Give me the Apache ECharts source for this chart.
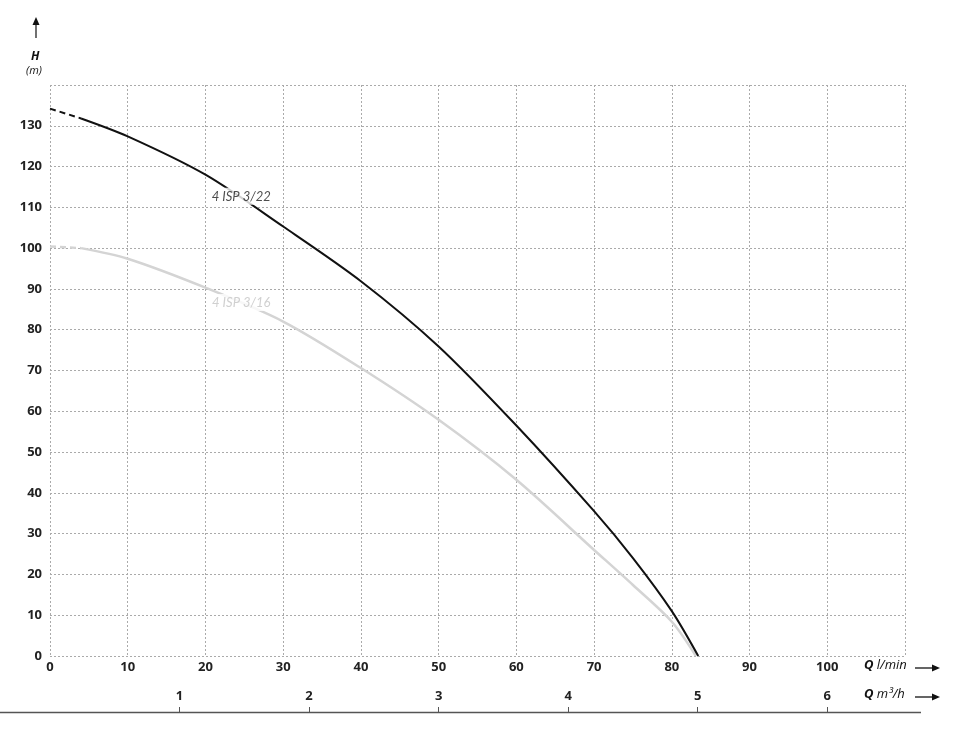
<!DOCTYPE html>
<html>
<head>
<meta charset="utf-8">
<script src="https://cdn.jsdelivr.net/npm/echarts@6/dist/echarts.min.js"></script>
<style>
  html, body { margin: 0; padding: 0; background: #fff; }
  #chart { width: 960px; height: 732px; }
</style>
</head>
<body>
<div id="chart"></div>
<script>
// pump curves, Q in l/min, H in m
const flow22 = [4, 10, 20, 30, 40, 50, 60, 70, 75, 80, 83.4];
const head22 = [131.8, 127.4, 118, 105.3, 91.9, 75.9, 56.5, 35.5, 24, 11, 0];
const flow22Dash = [0, 4];
const head22Dash = [134.2, 131.8];

const flow16 = [4, 10, 20, 30, 40, 50, 60, 70, 75, 80, 83.1];
const head16 = [100, 97.4, 90.3, 82, 70.6, 57.9, 43.2, 26, 17.4, 8.4, 0];
const flow16Dash = [0, 4];
const head16Dash = [100.4, 100];

const curveNames = ["4 ISP 3/22", "4 ISP 3/16"];
const labelPos = [[24.6, 112.7], [24.6, 86.7]];
const labelColors = ["#222", "#c4c4c4"];

const font = "'Open Sans', sans-serif";
const pairs = (xs, ys) => xs.map((x, i) => [x, ys[i]]);

const chart = echarts.init(document.getElementById("chart"));

const tickFont = {
  color: "#222",
  fontFamily: font,
  fontWeight: "bold",
  fontSize: 13
};

chart.setOption({
  animation: false,
  grid: { left: 50, right: 55, top: 85, bottom: 76 },
  xAxis: [
    {
      type: "value",
      min: 0,
      max: 110,
      interval: 10,
      axisLine: { show: false },
      axisTick: { show: false },
      axisLabel: Object.assign({ showMaxLabel: false, margin: 5 }, tickFont),
      splitLine: { lineStyle: { color: "#aaa", type: [2, 2], width: 1 } }
    },
    {
      // m3/h scale, same span as 0..110 l/min
      type: "value",
      position: "bottom",
      offset: 56,
      min: 0,
      max: 6.6,
      interval: 1,
      axisLine: { show: false },
      axisTick: { show: true, inside: true, length: 5, lineStyle: { color: "#555" } },
      axisLabel: Object.assign({ inside: true, showMinLabel: false, showMaxLabel: false, margin: 9 }, tickFont),
      splitLine: { show: false }
    }
  ],
  yAxis: {
    type: "value",
    min: 0,
    max: 140,
    interval: 10,
    axisLine: { show: false },
    axisTick: { show: false },
    axisLabel: Object.assign({ showMaxLabel: false, margin: 8 }, tickFont),
    splitLine: { lineStyle: { color: "#aaa", type: [2, 2], width: 1 } }
  },
  series: [
    {
      type: "line",
      data: pairs(flow16Dash, head16Dash),
      symbol: "none",
      lineStyle: { color: "#d4d4d4", width: 2.5, type: [6, 4] },
      z: 2
    },
    {
      type: "line",
      data: pairs(flow16, head16),
      smooth: 0.3,
      symbol: "none",
      lineStyle: { color: "#d4d4d4", width: 2.5 },
      z: 2
    },
    {
      type: "line",
      data: pairs(flow22Dash, head22Dash),
      symbol: "none",
      lineStyle: { color: "#111", width: 2, type: [6, 4] },
      z: 3
    },
    {
      type: "line",
      data: pairs(flow22, head22),
      smooth: 0.3,
      symbol: "none",
      lineStyle: { color: "#111", width: 2 },
      z: 3
    },
    {
      type: "scatter",
      symbolSize: 1,
      z: 5,
      silent: true,
      itemStyle: { color: "rgba(0,0,0,0)" },
      data: labelPos.map((p, i) => ({
        value: p,
        name: curveNames[i],
        label: { color: labelColors[i] }
      })),
      label: {
        show: true,
        position: "inside",
        formatter: "{b}",
        fontFamily: "Lato, sans-serif",
        fontStyle: "italic",
        fontSize: 13,
        backgroundColor: "#fff",
        padding: [2, 1]
      }
    }
  ],
  graphic: [
    // up arrow and H (m)
    { type: "line", shape: { x1: 36, y1: 38, x2: 36, y2: 24 }, style: { stroke: "#111", lineWidth: 1.2 } },
    { type: "polygon", shape: { points: [[32.5, 25], [36, 17], [39.5, 25]] }, style: { fill: "#111" } },
    {
      type: "text", left: 31, top: 51,
      style: { text: "H", font: "italic bold 12px 'Open Sans', sans-serif", fill: "#111" }
    },
    {
      type: "text", left: 26, top: 65,
      style: { text: "(m)", font: "italic 11px 'Open Sans', sans-serif", fill: "#111" }
    },
    // Q l/min
    {
      type: "text", left: 864, top: 659,
      style: {
        text: "{b|Q} {i|l/min}",
        rich: {
          b: { font: "italic bold 13px 'Open Sans', sans-serif", fill: "#111" },
          i: { font: "italic 13px 'Open Sans', sans-serif", fill: "#111" }
        }
      }
    },
    { type: "line", shape: { x1: 915, y1: 668, x2: 934, y2: 668 }, style: { stroke: "#111", lineWidth: 1.3 } },
    { type: "polygon", shape: { points: [[932, 664.5], [940, 668], [932, 671.5]] }, style: { fill: "#111" } },
    // Q m3/h
    {
      type: "text", left: 864, top: 688,
      style: {
        text: "{b|Q} {i|m³/h}",
        rich: {
          b: { font: "italic bold 13px 'Open Sans', sans-serif", fill: "#111" },
          i: { font: "italic 13px 'Open Sans', sans-serif", fill: "#111" }
        }
      }
    },
    { type: "line", shape: { x1: 915, y1: 697, x2: 934, y2: 697 }, style: { stroke: "#111", lineWidth: 1.3 } },
    { type: "polygon", shape: { points: [[932, 693.5], [940, 697], [932, 700.5]] }, style: { fill: "#111" } },
    // long baseline under the m3/h ticks
    { type: "line", shape: { x1: 0, y1: 712.5, x2: 921, y2: 712.5 }, style: { stroke: "#555", lineWidth: 1.3 } }
  ]
});
</script>
</body>
</html>
